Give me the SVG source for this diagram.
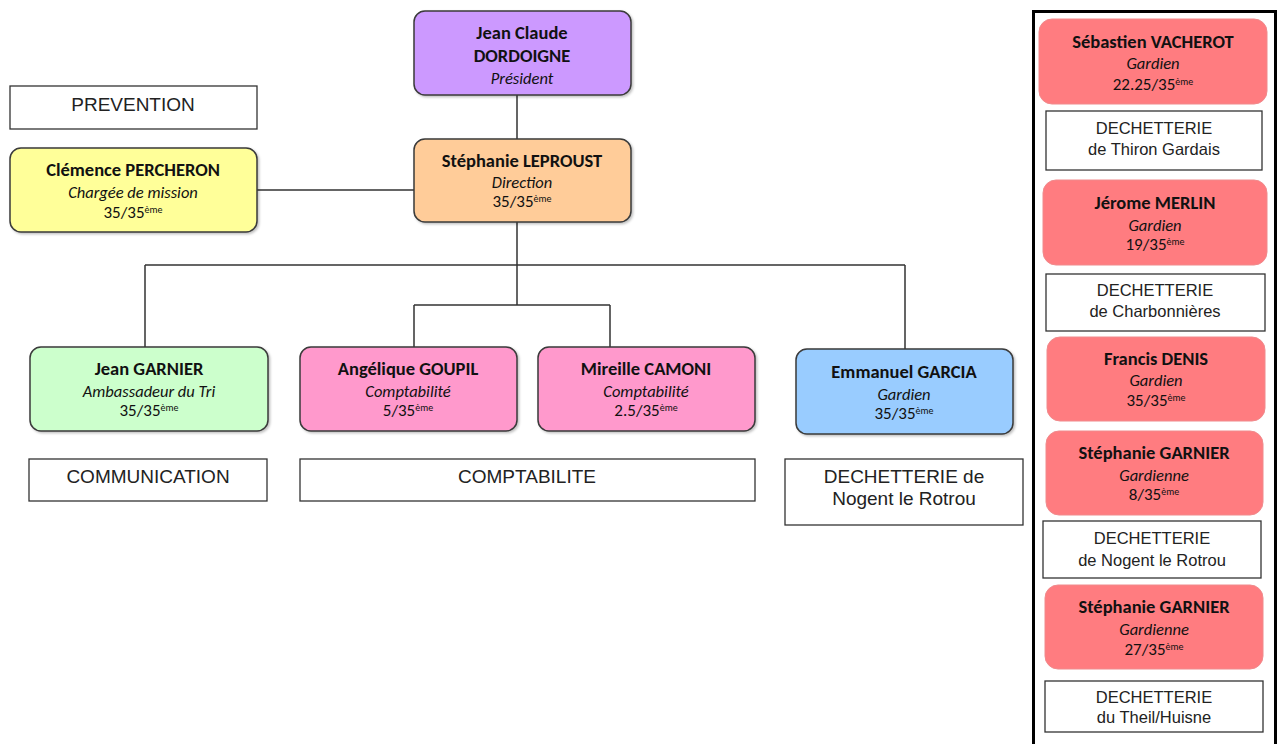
<svg xmlns="http://www.w3.org/2000/svg" width="1281" height="744" viewBox="0 0 1281 744">
<style>
.box{stroke:#3a3a3a;stroke-width:1.5}
.red{fill:#FF7C80;stroke:#f08a8c;stroke-width:1}
.lab{fill:#fff;stroke:#333;stroke-width:1.3}
.n{font-family:Carlito,Lato,"Open Sans",sans-serif;font-weight:bold;font-size:18.5px;fill:#111;text-anchor:middle}
.r{font-family:Carlito,Lato,"Open Sans",sans-serif;font-style:italic;font-size:16.5px;fill:#111;text-anchor:middle}
.f{font-family:Carlito,Lato,"Open Sans",sans-serif;font-size:17px;fill:#111;text-anchor:middle}
.s{font-size:10px}
.t{font-family:"Liberation Sans",Arial,sans-serif;font-size:19px;fill:#222;text-anchor:middle}
.t2{font-family:"Liberation Sans",Arial,sans-serif;font-size:16.5px;fill:#222;text-anchor:middle}
.c{fill:none;stroke:#333;stroke-width:1.5}
</style>
<defs>
<filter id="sh" x="-5%" y="-5%" width="115%" height="120%">
<feDropShadow dx="1.5" dy="1.5" stdDeviation="1" flood-color="#000" flood-opacity="0.25"/>
</filter>
</defs>
<rect width="1281" height="744" fill="#fff"/>
<g id="connectors">
<path class="c" d="M517 95V139M257 190H414M517 222V305M145 265H905M145 265V347M905 265V349M414 305H610M414 305V347M610 305V347"/>
</g>
<g id="president"><rect class="box" x="414" y="11" width="217" height="84" rx="11" fill="#CC99FF" filter="url(#sh)"/>
<text class="n" x="522" y="39">Jean Claude</text><text class="n" x="522" y="62">DORDOIGNE</text><text class="r" x="522" y="84">Président</text></g>
<g id="direction"><rect class="box" x="414" y="139" width="217" height="83" rx="11" fill="#FFCC99" filter="url(#sh)"/>
<text class="n" x="522" y="167">Stéphanie LEPROUST</text><text class="r" x="522" y="188">Direction</text><text class="f" x="522" y="207">35/35<tspan class="s" dy="-5">ème</tspan></text></g>
<g id="prevention"><rect class="lab" x="10" y="86" width="247" height="43"/><text class="t" x="133" y="111">PREVENTION</text></g>
<g id="percheron"><rect class="box" x="10" y="148" width="247" height="84" rx="11" fill="#FFFF99" filter="url(#sh)"/>
<text class="n" x="133" y="176">Clémence PERCHERON</text><text class="r" x="133" y="198">Chargée de mission</text><text class="f" x="133" y="218">35/35<tspan class="s" dy="-5">ème</tspan></text></g>
<g id="garnier"><rect class="box" x="30" y="347" width="238" height="84" rx="11" fill="#CCFFCC" filter="url(#sh)"/>
<text class="n" x="149" y="375">Jean GARNIER</text><text class="r" x="149" y="397">Ambassadeur du Tri</text><text class="f" x="149" y="416">35/35<tspan class="s" dy="-5">ème</tspan></text></g>
<g id="goupil"><rect class="box" x="300" y="347" width="217" height="84" rx="11" fill="#FF99CC" filter="url(#sh)"/>
<text class="n" x="408" y="375">Angélique GOUPIL</text><text class="r" x="408" y="397">Comptabilité</text><text class="f" x="408" y="416">5/35<tspan class="s" dy="-5">ème</tspan></text></g>
<g id="camoni"><rect class="box" x="538" y="347" width="217" height="84" rx="11" fill="#FF99CC" filter="url(#sh)"/>
<text class="n" x="646" y="375">Mireille CAMONI</text><text class="r" x="646" y="397">Comptabilité</text><text class="f" x="646" y="416">2.5/35<tspan class="s" dy="-5">ème</tspan></text></g>
<g id="garcia"><rect class="box" x="796" y="349" width="217" height="85" rx="11" fill="#99CCFF" filter="url(#sh)"/>
<text class="n" x="904" y="378">Emmanuel GARCIA</text><text class="r" x="904" y="400">Gardien</text><text class="f" x="904" y="419">35/35<tspan class="s" dy="-5">ème</tspan></text></g>
<g id="communication"><rect class="lab" x="29" y="459" width="238" height="42"/><text class="t" x="148" y="483">COMMUNICATION</text></g>
<g id="comptabilite"><rect class="lab" x="300" y="459" width="455" height="42"/><text class="t" x="527" y="483">COMPTABILITE</text></g>
<g id="dech-nogent"><rect class="lab" x="785" y="459" width="238" height="66"/><text class="t" x="904" y="483">DECHETTERIE de</text><text class="t" x="904" y="505">Nogent le Rotrou</text></g>
<g id="panel"><rect x="1033.5" y="11.5" width="242" height="740" fill="none" stroke="#000" stroke-width="3"/></g>
<g id="vacherot"><rect class="red" x="1039" y="19" width="228" height="85" rx="13"/>
<text class="n" x="1153" y="48">Sébastien VACHEROT</text><text class="r" x="1153" y="69">Gardien</text><text class="f" x="1153" y="90">22.25/35<tspan class="s" dy="-5">ème</tspan></text></g>
<g id="dech-thiron"><rect class="lab" x="1046" y="111" width="216" height="59"/><text class="t2" x="1154" y="134">DECHETTERIE</text><text class="t2" x="1154" y="155">de Thiron Gardais</text></g>
<g id="merlin"><rect class="red" x="1043" y="180" width="224" height="85" rx="13"/>
<text class="n" x="1155" y="209">Jérome MERLIN</text><text class="r" x="1155" y="231">Gardien</text><text class="f" x="1155" y="250">19/35<tspan class="s" dy="-5">ème</tspan></text></g>
<g id="dech-charbonnieres"><rect class="lab" x="1046" y="274" width="219" height="57"/><text class="t2" x="1155" y="296">DECHETTERIE</text><text class="t2" x="1155" y="317">de Charbonnières</text></g>
<g id="denis"><rect class="red" x="1047" y="337" width="218" height="84" rx="13"/>
<text class="n" x="1156" y="365">Francis DENIS</text><text class="r" x="1156" y="386">Gardien</text><text class="f" x="1156" y="406">35/35<tspan class="s" dy="-5">ème</tspan></text></g>
<g id="sgarnier1"><rect class="red" x="1046" y="431" width="217" height="84" rx="13"/>
<text class="n" x="1154" y="459">Stéphanie GARNIER</text><text class="r" x="1154" y="481">Gardienne</text><text class="f" x="1154" y="500">8/35<tspan class="s" dy="-5">ème</tspan></text></g>
<g id="dech-nogent2"><rect class="lab" x="1043" y="521" width="218" height="57"/><text class="t2" x="1152" y="544">DECHETTERIE</text><text class="t2" x="1152" y="566">de Nogent le Rotrou</text></g>
<g id="sgarnier2"><rect class="red" x="1045" y="585" width="218" height="84" rx="13"/>
<text class="n" x="1154" y="613">Stéphanie GARNIER</text><text class="r" x="1154" y="635">Gardienne</text><text class="f" x="1154" y="655">27/35<tspan class="s" dy="-5">ème</tspan></text></g>
<g id="dech-theil"><rect class="lab" x="1045" y="681" width="218" height="51"/><text class="t2" x="1154" y="703">DECHETTERIE</text><text class="t2" x="1154" y="723">du Theil/Huisne</text></g>
</svg>
